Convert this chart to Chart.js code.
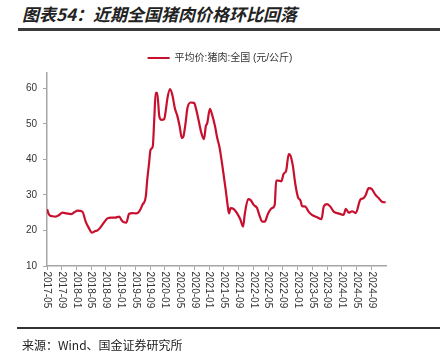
<!DOCTYPE html>
<html><head><meta charset="utf-8">
<script src="https://cdn.jsdelivr.net/npm/chart.js@4/dist/chart.umd.min.js"></script>
<style>
html,body{margin:0;padding:0;background:#fff;}
#wrap{position:relative;width:440px;height:360px;overflow:hidden;background:#fff;}
#title{position:absolute;left:22px;top:5px;font:italic bold 17px/17px "Noto Sans CJK SC";color:#222;white-space:nowrap;}
#rule1{position:absolute;left:18px;right:0;top:28px;height:3px;background:#3a3a3a;}
#rule2{position:absolute;left:17px;right:0;top:327px;height:2px;background:#333;}
#src{position:absolute;left:22px;top:339px;font:12px/12px "Noto Sans CJK SC";color:#222;white-space:nowrap;}
canvas{position:absolute;left:0;top:0;}
</style></head>
<body><div id="wrap">
<div id="title">图表54：近期全国猪肉价格环比回落</div>
<div id="rule1"></div>
<canvas id="c" width="440" height="360"></canvas>
<div id="rule2"></div>
<div id="src">来源：Wind、国金证券研究所</div>
</div>
<script>
const seriesName = "平均价:猪肉:全国 (元/公斤)";
const tickLabels = ["2017-05","2017-09","2018-01","2018-05","2018-09","2019-01","2019-05","2019-09","2020-01","2020-05","2020-09","2021-01","2021-05","2021-09","2022-01","2022-05","2022-09","2023-01","2023-05","2023-09","2024-01","2024-05","2024-09"];
const dates = ["2017-05-01","2017-05-19","2017-06-16","2017-07-13","2017-08-07","2017-09-07","2017-10-10","2017-11-16","2017-12-13","2018-01-10","2018-02-19","2018-03-16","2018-04-10","2018-05-07","2018-06-01","2018-06-22","2018-07-19","2018-08-16","2018-09-13","2018-10-16","2018-11-16","2018-12-19","2019-01-10","2019-01-28","2019-02-16","2019-03-10","2019-04-07","2019-05-07","2019-06-01","2019-06-28","2019-07-25","2019-08-07","2019-08-22","2019-09-04","2019-09-22","2019-10-04","2019-10-16","2019-10-28","2019-11-16","2019-12-04","2019-12-25","2020-01-07","2020-01-22","2020-02-13","2020-03-01","2020-03-22","2020-04-13","2020-05-01","2020-05-19","2020-06-01","2020-06-19","2020-07-04","2020-08-01","2020-08-28","2020-09-16","2020-10-07","2020-10-28","2020-11-19","2020-12-04","2020-12-16","2021-01-07","2021-01-25","2021-02-19","2021-03-07","2021-03-25","2021-04-16","2021-05-16","2021-06-04","2021-06-13","2021-06-25","2021-07-22","2021-08-19","2021-09-16","2021-10-07","2021-10-22","2021-11-19","2021-12-07","2022-01-04","2022-02-01","2022-02-22","2022-03-13","2022-04-04","2022-05-01","2022-06-04","2022-06-25","2022-07-07","2022-07-28","2022-08-19","2022-09-07","2022-09-28","2022-10-19","2022-11-04","2022-11-22","2022-12-13","2023-01-04","2023-01-25","2023-02-07","2023-03-04","2023-04-01","2023-04-28","2023-06-10","2023-07-16","2023-08-04","2023-09-01","2023-09-28","2023-10-25","2023-12-04","2024-01-16","2024-02-04","2024-02-28","2024-03-25","2024-04-25","2024-06-01","2024-06-28","2024-07-16","2024-08-10","2024-09-07","2024-10-04","2024-11-01","2024-11-28","2024-12-28"];
const prices = [26.0,24.4,24.0,23.9,24.3,25.0,24.8,24.6,25.1,25.6,25.3,22.5,20.8,19.4,19.8,20.0,21.0,22.3,23.4,23.6,23.6,23.9,22.8,22.3,22.2,24.7,24.9,24.8,25.3,27.2,29.5,34.2,38.9,42.7,43.6,51.1,58.7,58.7,52.0,51.1,51.3,53.5,57.3,59.8,58.2,54.4,52.1,49.3,46.0,46.4,50.2,54.4,56.0,55.9,54.0,50.7,47.4,45.7,49.3,50.2,54.2,52.6,49.3,46.0,43.5,38.9,31.4,26.5,24.8,26.3,26.0,24.8,23.0,21.1,24.8,28.8,28.6,27.2,26.3,24.1,22.5,22.5,24.8,26.3,27.2,34.0,34.0,33.8,35.9,36.8,41.5,41.0,38.3,33.0,29.4,28.4,26.9,26.7,25.3,24.4,23.7,23.2,26.7,27.4,26.7,25.3,24.8,24.4,26.1,25.0,25.4,24.9,28.6,29.1,30.0,31.9,31.6,30.1,29.1,28.1,27.9];

function monthIndex(s){const p=s.split('-').map(Number);return (p[0]-2017)*12+(p[1]-5)+(p[2]-1)/30;}
const LINE = '#c8102e';
const AXIS = '#a6a6a6';
const TXT = '#333333';
const FONT = '"Liberation Sans", Arial, "Noto Sans CJK SC", sans-serif';

const rotLabels = {
  id:'rotLabels',
  afterDraw(chart){
    const s = chart.scales.x, ctx = chart.ctx;
    ctx.save();
    ctx.font = '10px ' + FONT;
    ctx.fillStyle = TXT;
    ctx.textAlign = 'left'; ctx.textBaseline = 'middle';
    s.ticks.forEach(t=>{
      const x = s.getPixelForValue(t.value);
      ctx.save(); ctx.translate(x, s.top + 5.5); ctx.rotate(Math.PI/2);
      ctx.fillText(tickLabels[Math.round(t.value/4)], 0, 0);
      ctx.restore();
    });
    ctx.restore();
  }
};

new Chart(document.getElementById('c'), {
  type:'line',
  data:{datasets:[{
    label: seriesName,
    data: dates.map((d,i)=>({x:monthIndex(d), y:prices[i]})),
    borderColor: LINE, backgroundColor: LINE, borderWidth: 2.2,
    pointRadius: 0, cubicInterpolationMode:'monotone', fill:false
  }]},
  options:{
    responsive:false, animation:false,
    layout:{padding:{top:48,left:0,right:0,bottom:0}},
    plugins:{
      tooltip:{enabled:false},
      legend:{
        position:'top', align:'center',
        labels:{
          boxWidth:22, boxHeight:2, padding:5, color:TXT,
          font:{size:10, family:FONT},
          generateLabels(chart){
            const l = Chart.defaults.plugins.legend.labels.generateLabels(chart);
            l.forEach(i=>{i.lineWidth=0; i.fillStyle=LINE; i.strokeStyle=LINE;});
            return l;
          }
        }
      }
    },
    scales:{
      x:{
        type:'linear', min:0, max:92,
        ticks:{stepSize:4, display:false},
        afterBuildTicks(s){ s.ticks = s.ticks.filter(t=>t.value<=88); },
        afterFit(s){ s.height = 94; },
        grid:{display:true, drawOnChartArea:false, drawTicks:true, tickLength:4, color:AXIS, lineWidth:1},
        border:{display:true, color:AXIS, width:1.5}
      },
      y:{
        type:'linear', position:'left', min:10, max:64.3,
        ticks:{stepSize:10, color:TXT, padding:6, font:{size:10, family:FONT}},
        afterBuildTicks(s){ s.ticks = s.ticks.filter(t=>t.value<=60 && t.value%10===0); },
        afterFit(s){ s.width = 47; },
        grid:{display:true, drawOnChartArea:false, drawTicks:true, tickLength:4, color:AXIS, lineWidth:1},
        border:{display:true, color:AXIS, width:1.5}
      },
      yr:{
        type:'linear', position:'right', min:0, max:1, display:true,
        ticks:{display:false}, grid:{display:false}, border:{display:false},
        afterFit(s){ s.width = 54; }
      }
    }
  },
  plugins:[rotLabels]
});
</script>
</body></html>
